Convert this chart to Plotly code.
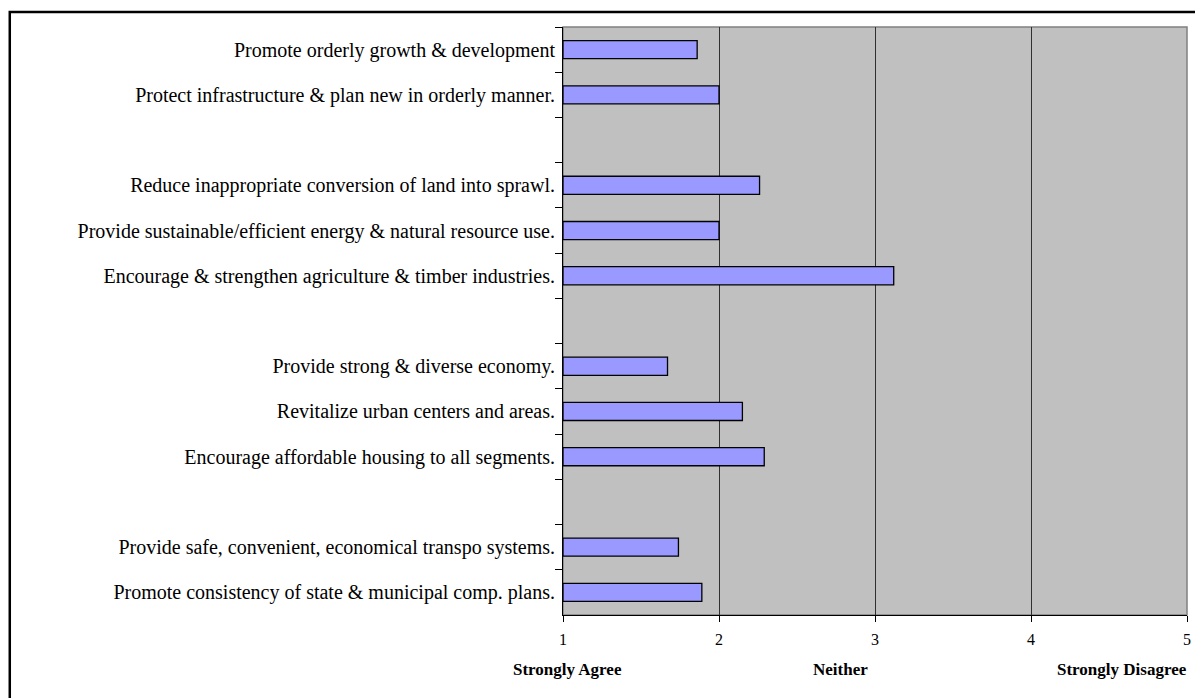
import plotly.graph_objects as go

categories = [
    "Promote orderly growth & development",
    "Protect infrastructure & plan new in orderly manner.",
    " ",
    "Reduce inappropriate conversion of land into sprawl.",
    "Provide sustainable/efficient energy & natural resource use.",
    "Encourage & strengthen agriculture & timber industries.",
    "  ",
    "Provide strong & diverse economy.",
    "Revitalize urban centers and areas.",
    "Encourage affordable housing to all segments.",
    "   ",
    "Provide safe, convenient, economical transpo systems.",
    "Promote consistency of state & municipal comp. plans.",
]
values = [1.86, 2.0, None, 2.26, 2.0, 3.12, None, 1.67, 2.15, 2.29, None, 1.74, 1.89]
x_ticks = [1, 2, 3, 4, 5]
scale_labels = ["Strongly Agree", "Neither", "Strongly Disagree"]

# layout: left edges of the scale labels (fraction of plot width)
scale_label_left = [-0.0835, 0.398, 0.789]

# page body has an 8px margin; size the figure to fit the window
W, H = 1195, 690
ml, mr, mt, mb = 555, 14, 19, 83

base = 1
fig = go.Figure()
fig.add_trace(go.Bar(
    y=categories,
    x=[(v - base) if v is not None else None for v in values],
    base=base,
    orientation="h",
    marker=dict(color="#9999FF", line=dict(color="black", width=1.3)),
    hoverinfo="skip",
))

fig.update_layout(
    width=W, height=H,
    margin=dict(l=ml, r=mr, t=mt, b=mb),
    paper_bgcolor="white",
    plot_bgcolor="#C0C0C0",
    bargap=0.6,
    showlegend=False,
    font=dict(family="Liberation Serif", color="black"),
)
fig.update_xaxes(
    range=[1, 5], tickvals=x_ticks, ticktext=[str(t) for t in x_ticks],
    showgrid=True, gridcolor="#303030", gridwidth=1,
    showline=True, linecolor="black", linewidth=1,
    ticks="outside", ticklen=6, tickcolor="black",
    tickfont=dict(size=16, family="Liberation Serif"),
    ticklabelstandoff=4,
    zeroline=False, mirror=False,
)
fig.update_yaxes(
    type="category", categoryorder="array", categoryarray=categories,
    autorange="reversed",
    tickson="boundaries",
    showgrid=False,
    showline=True, linecolor="black", linewidth=1,
    ticks="outside", ticklen=7, tickcolor="black",
    tickfont=dict(size=20, family="Liberation Serif"),
    ticklabelstandoff=3,
)
# plot border (gray)
fig.add_shape(type="rect", xref="paper", yref="paper", x0=0, x1=1, y0=0, y1=1,
              line=dict(color="#808080", width=1.5), layer="below")
# outer chart frame
pw = W - ml - mr
ph = H - mt - mb
fx0 = (0 - ml) / pw
fx1 = (W + 10 - ml) / pw
fy1 = (H - 4 - mb) / ph
fy0 = (-20 - mb) / ph
fig.add_shape(type="rect", xref="paper", yref="paper", x0=fx0, x1=fx1, y0=fy0, y1=fy1,
              line=dict(color="black", width=2.5))
for lbl, left in zip(scale_labels, scale_label_left):
    fig.add_annotation(x=left, y=0, xref="paper", yref="paper", yshift=-54,
                       text="<b>" + lbl + "</b>", showarrow=False,
                       font=dict(size=17, family="Liberation Serif"),
                       xanchor="left", yanchor="middle")

fig.write_html("out.html")
